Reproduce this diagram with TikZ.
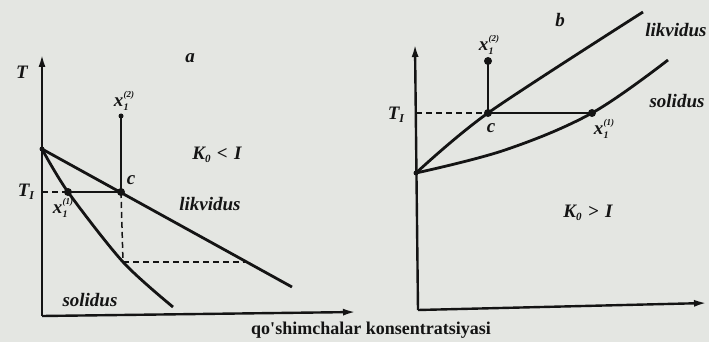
\documentclass[tikz,border=0pt]{standalone}
\usepackage{fontspec}
\setmainfont{Liberation Serif}
\usetikzlibrary{arrows.meta}
\definecolor{paper}{RGB}{228,230,226}
\definecolor{ink}{RGB}{20,20,20}
\newcommand{\xlab}[1]{x\kern0.3pt\raisebox{-0.45ex}{\makebox[0pt][l]{\fontsize{10}{10}\selectfont 1}}\raisebox{1.0ex}{\fontsize{9}{9}\selectfont(#1)}}
\tikzset{
  axisline/.style={line width=2.4pt, ink, -{Latex[length=13pt,width=7pt]}},
  curveline/.style={line width=2.8pt, ink},
  tieline/.style={line width=1.5pt, ink},
  dashline/.style={line width=1.5pt, ink, dashed, dash pattern=on 6pt off 4pt},
  dotmark/.style={circle, fill=ink, inner sep=0pt, minimum size=8pt},
  lab/.style={text=ink, font=\bfseries\itshape\fontsize{19}{19}\selectfont, inner sep=0pt},
  biglab/.style={text=ink, font=\bfseries\fontsize{18}{18}\selectfont, inner sep=0pt},
}
\begin{document}
\begin{tikzpicture}[x=1pt,y=-1pt]
\fill[paper] (0,0) rectangle (709,342);
\useasboundingbox (0,0) rectangle (709,342);
% ---------- left panel (a) ----------
\coordinate (A0) at (42,316);
\coordinate (Ay) at (42,54);
\coordinate (Ax) at (356,312);
\coordinate (P) at (42,149);
\coordinate (Lend) at (292,287);
\coordinate (C) at (121,192);
\coordinate (S1) at (68,192);
\coordinate (T1a) at (42,192);
\coordinate (X2) at (121,116);
\coordinate (Sd) at (123,262);
\coordinate (Ld) at (246,262);
\coordinate (Send) at (173,307);
\draw[axisline] (A0) -- (Ay);
\draw[axisline] (A0) -- (Ax);
\draw[curveline] (P) -- (Lend);
\draw[curveline] plot[smooth] coordinates {(P) (S1) (Sd) (Send)};
\draw[dashline] (T1a) -- (S1);
\draw[tieline] (S1) -- (C);
\draw[tieline] (X2) -- (C);
\draw[dashline] (C) -- (Sd);
\draw[dashline] (Sd) -- (Ld);
\node[dotmark] (dS1) at (S1) {};
\node[dotmark] (dC) at (C) {};
\node[dotmark, minimum size=5pt] (dX2) at (X2) {};
\node[lab] (Tlab) at (22,72) {T};
\node[lab] (alab) at (190,58) {a};
\node[lab] (x2a) at (124,101) {\xlab{2}};
\node[lab] (Ka) at (217,155) {K\raisebox{-0.4ex}{\fontsize{11}{11}\selectfont 0}\,\,<\,\,I};
\node[lab] (ca) at (131,180) {c};
\node[lab] (T1la) at (26,192) {T\raisebox{-0.4ex}{\fontsize{12}{12}\selectfont I}};
\node[lab] (x1a) at (63,208) {\xlab{1}};
\node[lab] (lika) at (210,204) {likvidus};
\node[lab] (sola) at (90,300) {solidus};
% ---------- right panel (b) ----------
\coordinate (B0) at (418,310);
\coordinate (By) at (415,44);
\coordinate (Bx) at (707,303);
\coordinate (Q) at (416,173);
\coordinate (C2) at (488,113);
\coordinate (Lend2) at (643,12);
\coordinate (S2) at (592,113);
\coordinate (Send2) at (668,60);
\coordinate (X22) at (488,61);
\coordinate (T1b) at (416,113);
\draw[axisline] (B0) -- (By);
\draw[axisline] (B0) -- (Bx);
\draw[curveline] plot[smooth] coordinates {(Q) (C2) (Lend2)};
\draw[curveline] plot[smooth, tension=0.6] coordinates {(Q) (505,150) (S2) (Send2)};
\draw[dashline] (T1b) -- (C2);
\draw[tieline] (C2) -- (S2);
\draw[tieline] (X22) -- (C2);
\node[dotmark] (dC2) at (C2) {};
\node[dotmark] (dS2) at (S2) {};
\node[dotmark] (dX22) at (X22) {};
\node[dotmark, minimum size=5pt] (dQ) at (Q) {};
\node[dotmark, minimum size=5pt] (dP) at (P) {};
\node[lab] (x2b) at (489,45) {\xlab{2}};
\node[lab] (blab) at (560,20) {b};
\node[lab] (likb) at (676,30) {likvidus};
\node[lab] (solb) at (677,101) {solidus};
\node[lab] (T1lb) at (396,115) {T\raisebox{-0.4ex}{\fontsize{12}{12}\selectfont I}};
\node[lab] (cb) at (491,128) {c};
\node[lab] (x1b) at (604,129) {\xlab{1}};
\node[lab] (Kb) at (588,213) {K\raisebox{-0.4ex}{\fontsize{11}{11}\selectfont 0}\,\,>\,\,I};
% ---------- common axis label ----------
\node[biglab] (xlabel) at (371,330) {qo\textquotesingle shimchalar konsentratsiyasi};
\end{tikzpicture}
\end{document}
